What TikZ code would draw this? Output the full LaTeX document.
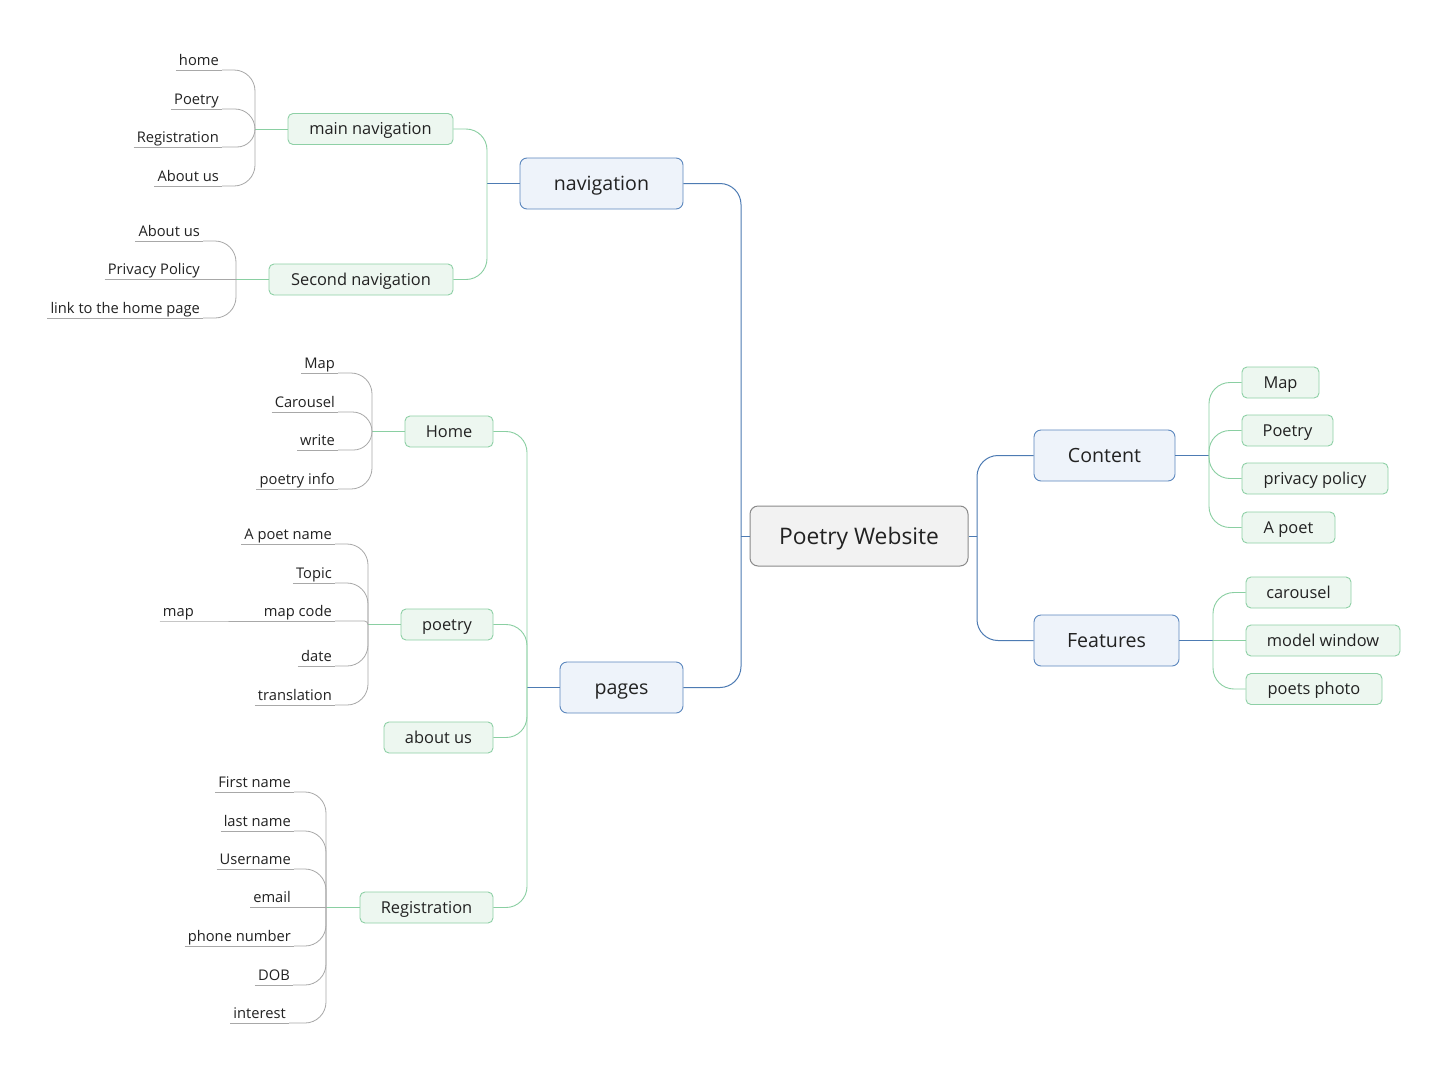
\documentclass[tikz,border=0pt]{standalone}
\usepackage{fontspec}
\setmainfont{Open Sans}
\usetikzlibrary{calc}
\definecolor{bline}{HTML}{4D7BB3}
\definecolor{bbord}{HTML}{5B87BE}
\definecolor{bfill}{HTML}{EEF3FA}
\definecolor{gline}{HTML}{8ACFA2}
\definecolor{gbord}{HTML}{8ED0A6}
\definecolor{gfill}{HTML}{EDF7F0}
\definecolor{lline}{HTML}{A8A8A8}
\definecolor{cbord}{HTML}{8A8A8A}
\definecolor{cfill}{HTML}{F2F2F2}
\definecolor{txt}{HTML}{222222}
% elbow connector: #1 style, #2 trunk point, #3 child anchor
\newcommand\elb[3]{\draw[#1] let \p1=#2, \p2=#3, \n1={min(21,abs(\y2-\y1))}, \n2={sign(\y1-\y2)}, \n3={sign(\x2-\x1)} in
  (\p1) -- (\x1,{\y2+(\n2)*(\n1)*1pt}) .. controls (\x1,{\y2+(\n2)*(\n1)*0.448pt}) and ({\x1+(\n3)*(\n1)*0.448pt},\y2) .. ({\x1+(\n3)*(\n1)*1pt},\y2) -- (\p2);}
% leaf: #1 name, #2 text, #3 position (right end of underline), #4 trunk
\newcommand\lf[4]{\node[leafnode] (#1) at #3 {#2};
  \draw[gryline] (#1.south west) -- (#1.south east);
  \elb{gryline}{#4}{(#1.south east)}}
\begin{document}
\begin{tikzpicture}[x=1pt,y=-1pt,
  rootbox/.style={draw=cbord, fill=cfill, rounded corners=8pt, line width=1pt, minimum width=218pt, minimum height=60pt, inner sep=0pt, text=txt, text height=20pt, text depth=3.4pt, font=\fontsize{22.8}{26}\selectfont},
  bluebox/.style={draw=bbord, fill=bfill, rounded corners=7pt, line width=0.9pt, minimum height=51pt, inner sep=0pt, text=txt, text height=17pt, text depth=3pt, font=\fontsize{19.6}{23}\selectfont},
  greenbox/.style={draw=gbord, fill=gfill, rounded corners=5pt, line width=0.9pt, minimum height=31pt, inner sep=0pt, text=txt, text height=14pt, text depth=3pt, font=\fontsize{16.4}{19}\selectfont},
  leafnode/.style={anchor=south east, inner xsep=3pt, inner ysep=1pt, text height=10pt, text depth=3.5pt, text=txt, font=\fontsize{14.7}{17}\selectfont},
  bluline/.style={draw=bline, line width=1pt},
  grnline/.style={draw=gline, line width=0.9pt},
  gryline/.style={draw=lline, line width=0.8pt}]
\useasboundingbox (0,0) rectangle (1449,1071);
\fill[white] (0,0) rectangle (1449,1071);

% root and main branches
\node[rootbox] (root) at (859,536) {Poetry Website};
\node[bluebox, minimum width=163pt] (nav) at (601.5,183.5) {navigation};
\node[bluebox, minimum width=123pt] (pages) at (621.5,687.5) {pages};
\node[bluebox, minimum width=141pt] (content) at (1104.5,455.5) {Content};
\node[bluebox, minimum width=145pt] (features) at (1106.5,640.5) {Features};

\coordinate (tl) at (741,536);
\coordinate (tr) at (977,536);
\draw[bluline] (root.west) -- (tl);
\draw[bluline] (root.east) -- (tr);
\elb{bluline}{(tl)}{(nav.east)}
\elb{bluline}{(tl)}{(pages.east)}
\elb{bluline}{(tr)}{(content.west)}
\elb{bluline}{(tr)}{(features.west)}

% second level
\node[greenbox, minimum width=165pt] (mainnav) at (370.5,129) {main navigation};
\node[greenbox, minimum width=184pt] (secnav) at (361,279.5) {Second navigation};
\node[greenbox, minimum width=88pt] (home) at (449,431.5) {Home};
\node[greenbox, minimum width=92pt] (poetry) at (447,624.5) {poetry};
\node[greenbox, minimum width=109pt] (aboutus) at (438.5,737.5) {about us};
\node[greenbox, minimum width=133pt] (registration) at (426.5,907.5) {Registration};
\node[greenbox, minimum width=77pt] (cmap) at (1280.5,382.5) {Map};
\node[greenbox, minimum width=91pt] (cpoetry) at (1287.5,430.5) {Poetry};
\node[greenbox, minimum width=146pt] (cpriv) at (1315,478.5) {privacy policy};
\node[greenbox, minimum width=93pt] (cpoet) at (1288.5,527.5) {A poet};
\node[greenbox, minimum width=105pt] (fcar) at (1298.5,592.5) {carousel};
\node[greenbox, minimum width=154pt] (fmodel) at (1323,640.5) {model window};
\node[greenbox, minimum width=136pt] (fphoto) at (1314,689) {poets photo};

\coordinate (tnav) at (487,183.5);
\coordinate (tpages) at (527,687.5);
\coordinate (tcont) at (1209,455.5);
\coordinate (tfeat) at (1213,640.5);
\draw[bluline] (nav.west) -- (tnav);
\draw[bluline] (pages.west) -- (tpages);
\draw[bluline] (content.east) -- (tcont);
\draw[bluline] (features.east) -- (tfeat);
\elb{grnline}{(tnav)}{(mainnav.east)}
\elb{grnline}{(tnav)}{(secnav.east)}
\elb{grnline}{(tpages)}{(home.east)}
\elb{grnline}{(tpages)}{(poetry.east)}
\elb{grnline}{(tpages)}{(aboutus.east)}
\elb{grnline}{(tpages)}{(registration.east)}
\elb{grnline}{(tcont)}{(cmap.west)}
\elb{grnline}{(tcont)}{(cpoetry.west)}
\elb{grnline}{(tcont)}{(cpriv.west)}
\elb{grnline}{(tcont)}{(cpoet.west)}
\elb{grnline}{(tfeat)}{(fcar.west)}
\elb{grnline}{(tfeat)}{(fmodel.west)}
\elb{grnline}{(tfeat)}{(fphoto.west)}

% leaf trunks
\coordinate (tmn) at (255,129);
\coordinate (tsn) at (236,279.5);
\coordinate (thm) at (372,431.5);
\coordinate (tpo) at (368,624.5);
\coordinate (trg) at (326,907.5);
\draw[grnline] (mainnav.west) -- (tmn);
\draw[grnline] (secnav.west) -- (tsn);
\draw[grnline] (home.west) -- (thm);
\draw[grnline] (poetry.west) -- (tpo);
\draw[grnline] (registration.west) -- (trg);

% leaves of main navigation
\lf{mnhome}{home}{(222,70)}{(tmn)}
\lf{mnpoetry}{Poetry}{(222,109)}{(tmn)}
\lf{mnreg}{Registration}{(222,147)}{(tmn)}
\lf{mnabout}{About us}{(222,186)}{(tmn)}
% leaves of second navigation
\lf{snabout}{About us}{(203,241)}{(tsn)}
\lf{snpriv}{Privacy Policy}{(203,279.5)}{(tsn)}
\lf{snlink}{link to the home page}{(203,318)}{(tsn)}
% leaves of Home
\lf{hmap}{Map}{(338,373)}{(thm)}
\lf{hcar}{Carousel}{(338,412)}{(thm)}
\lf{hwrite}{write}{(338,450)}{(thm)}
\lf{hinfo}{poetry info}{(338,489)}{(thm)}
% leaves of poetry
\lf{pname}{A poet name}{(335,544)}{(tpo)}
\lf{ptopic}{Topic}{(335,583)}{(tpo)}
\lf{pcode}{map code}{(335,621)}{(tpo)}
\lf{pdate}{date}{(335,666)}{(tpo)}
\lf{ptrans}{translation}{(335,705)}{(tpo)}
\node[leafnode] (pmap) at (197,621) {map};
\draw[gryline] (pmap.south west) -- (pmap.south east) -- (pcode.south west);
% leaves of Registration
\lf{rfirst}{First name}{(294,792)}{(trg)}
\lf{rlast}{last name}{(294,831)}{(trg)}
\lf{ruser}{Username}{(294,869)}{(trg)}
\lf{remail}{email}{(294,907.5)}{(trg)}
\lf{rphone}{phone number}{(294,946)}{(trg)}
\lf{rdob}{DOB}{(293,985)}{(trg)}
\lf{rint}{interest}{(289,1023)}{(trg)}
\end{tikzpicture}
\end{document}
